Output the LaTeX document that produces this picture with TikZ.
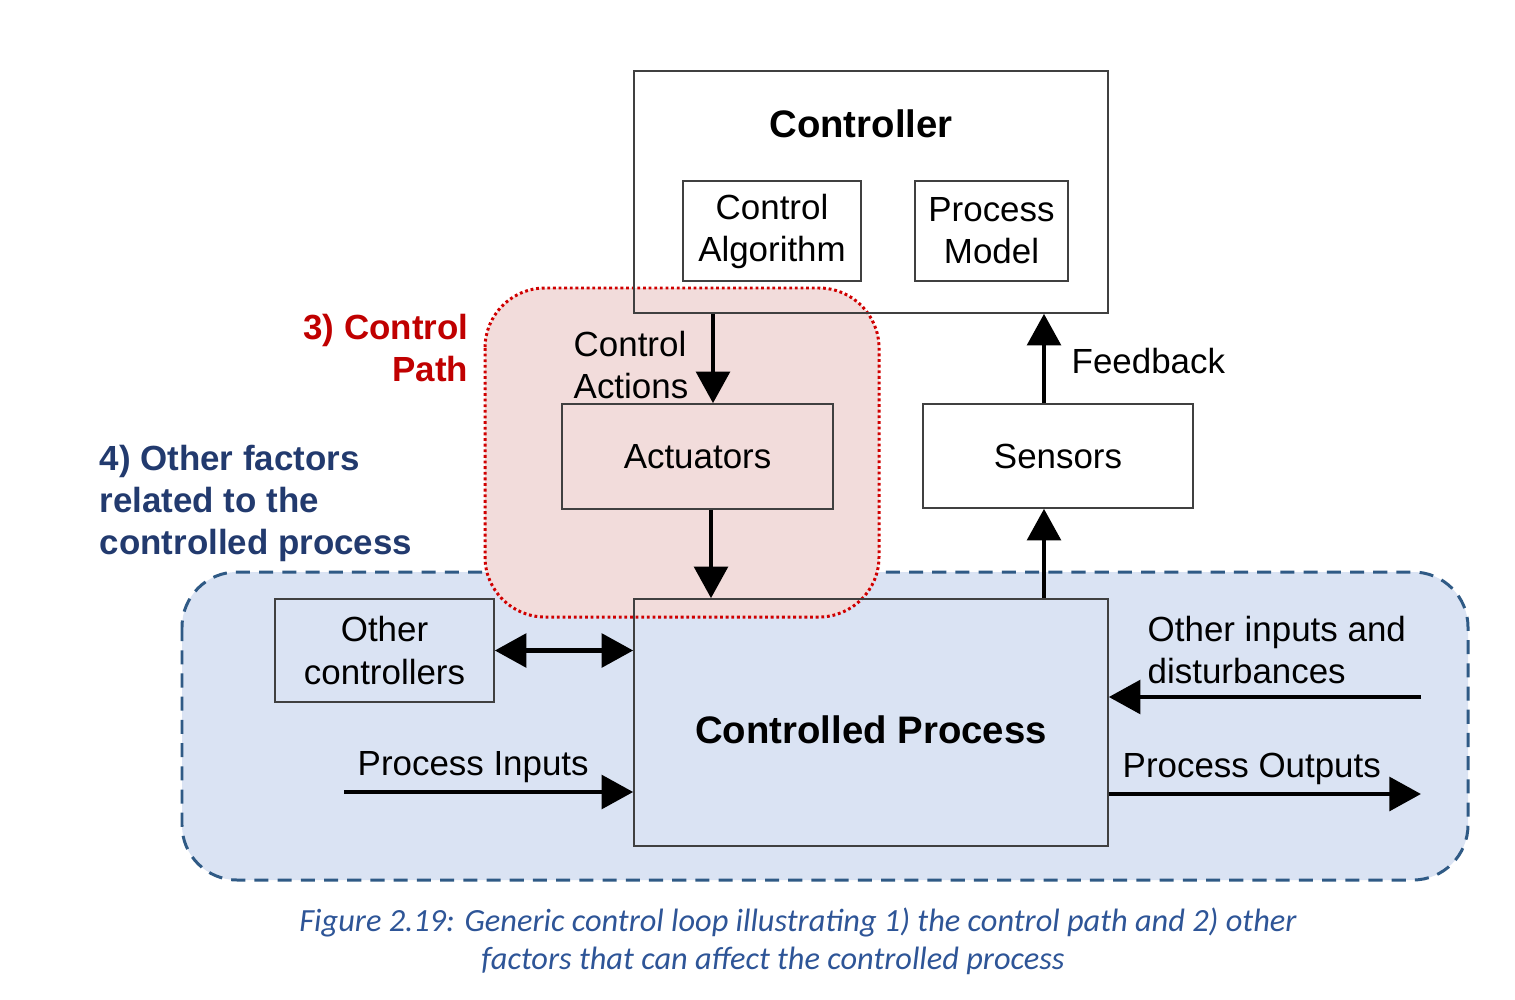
\documentclass[tikz,border=0pt]{standalone}
\usepackage{fontspec}
\setmainfont{Liberation Sans}
\newfontfamily\capfont{Carlito}
\usetikzlibrary{arrows.meta,calc}
\definecolor{regblue}{HTML}{DAE3F3}
\definecolor{regblueline}{HTML}{2F5A85}
\definecolor{regred}{HTML}{F2DCDB}
\definecolor{reglinered}{HTML}{D00000}
\definecolor{labred}{HTML}{C00000}
\definecolor{labnavy}{HTML}{223A6E}
\definecolor{capblue}{HTML}{2E5597}
\definecolor{boxline}{HTML}{404040}
\tikzset{
  blk/.style={draw=boxline, line width=0.45pt, inner sep=0pt, align=center,
    font=\fontsize{9.93}{11.95}\selectfont},
  lab/.style={inner sep=0pt, font=\fontsize{9.93}{11.95}\selectfont},
  ttl/.style={inner sep=0pt, font=\fontsize{10.9}{13}\selectfont\bfseries},
  arr/.style={line width=1.4pt, -{Triangle[length=9pt,width=9.5pt]}},
  dblarr/.style={line width=1.4pt, {Triangle[length=9pt,width=9.5pt]}-{Triangle[length=9pt,width=9.5pt]}},
}
\begin{document}
\begin{tikzpicture}[x=0.01cm,y=-0.01cm]
\useasboundingbox (0,0) rectangle (1515,1000);
% regions
\draw[fill=regblue, draw=regblueline, line width=0.85pt, dash pattern=on 4pt off 2.6pt, rounded corners=0.55cm]
  (182,572) rectangle (1468,880);
\draw[fill=regred, draw=reglinered, line width=0.85pt, dash pattern=on 0.8pt off 0.8pt, rounded corners=0.6cm]
  (485,288) rectangle (879,617);
% boxes
\node[blk, minimum width=474*0.01cm, minimum height=242*0.01cm] (ctrl) at (871,192) {};
\node[ttl] (ctrlt) at (861,124) {Controller};
\node[blk, minimum width=178*0.01cm, minimum height=100*0.01cm] (calg) at (772,231) {Control\\Algorithm};
\node[blk, minimum width=153*0.01cm, minimum height=100*0.01cm] (pmod) at (991.5,231) {Process\\Model};
\node[blk, minimum width=271*0.01cm, minimum height=105*0.01cm] (act) at (697.5,456.5) {Actuators};
\node[blk, minimum width=270*0.01cm, minimum height=104*0.01cm] (sens) at (1058,456) {Sensors};
\node[blk, minimum width=474*0.01cm, minimum height=247*0.01cm] (proc) at (871,722.5) {};
\node[ttl] (proct) at (871,730) {Controlled Process};
\node[blk, minimum width=219*0.01cm, minimum height=103*0.01cm] (oth) at (384.5,650.5) {Other\\controllers};
% connector helper coordinates
\coordinate (xca) at (713,0);
\coordinate (xap) at (711,0);
\coordinate (xfb) at (1044,0);
\coordinate (pin) at (344,792);
\coordinate (oin) at (1421,697);
\coordinate (pout) at (1421,794);
% connectors
\draw[arr] (ctrl.south -| xca) -- (act.north -| xca);
\draw[arr] (act.south -| xap) -- (proc.north -| xap);
\draw[arr] (proc.north -| xfb) -- (sens.south -| xfb);
\draw[arr] (sens.north -| xfb) -- (ctrl.south -| xfb);
\draw[dblarr] (oth.east) -- (proc.west |- oth.east);
\draw[arr] (pin) -- (proc.west |- pin);
\draw[arr] (oin) -- (proc.east |- oin);
\draw[arr] (proc.east |- pout) -- (pout);
% labels
\node[lab, anchor=west, align=left] (lca) at (573,365) {Control\\Actions};
\node[lab, anchor=west] (lfb) at (1071,361) {Feedback};
\node[lab, anchor=west, align=left] (loi) at (1147,650) {Other inputs and\\disturbances};
\node[lab, anchor=west] (lpi) at (357,767) {Process Inputs};
\node[lab, anchor=west] (lpo) at (1122,769) {Process Outputs};
\node[lab, anchor=east, align=right, text=labred, font=\fontsize{9.93}{11.95}\selectfont\bfseries] (lcp) at (469,348) {3) Control\\Path};
\node[lab, anchor=west, align=left, text=labnavy, font=\fontsize{9.93}{11.95}\selectfont\bfseries] (lof) at (99,503) {4) Other factors\\related to the\\controlled process};
% caption
\node[inner sep=0pt, text=capblue, font=\capfont\itshape\fontsize{9.2}{11}\selectfont] (cap1) at (798,922) {Figure 2.19: Generic control loop illustrating 1) the control path and 2) other};
\node[inner sep=0pt, text=capblue, font=\capfont\itshape\fontsize{9.2}{11}\selectfont] (cap2) at (773,961) {factors that can affect the controlled process};
\end{tikzpicture}
\end{document}
